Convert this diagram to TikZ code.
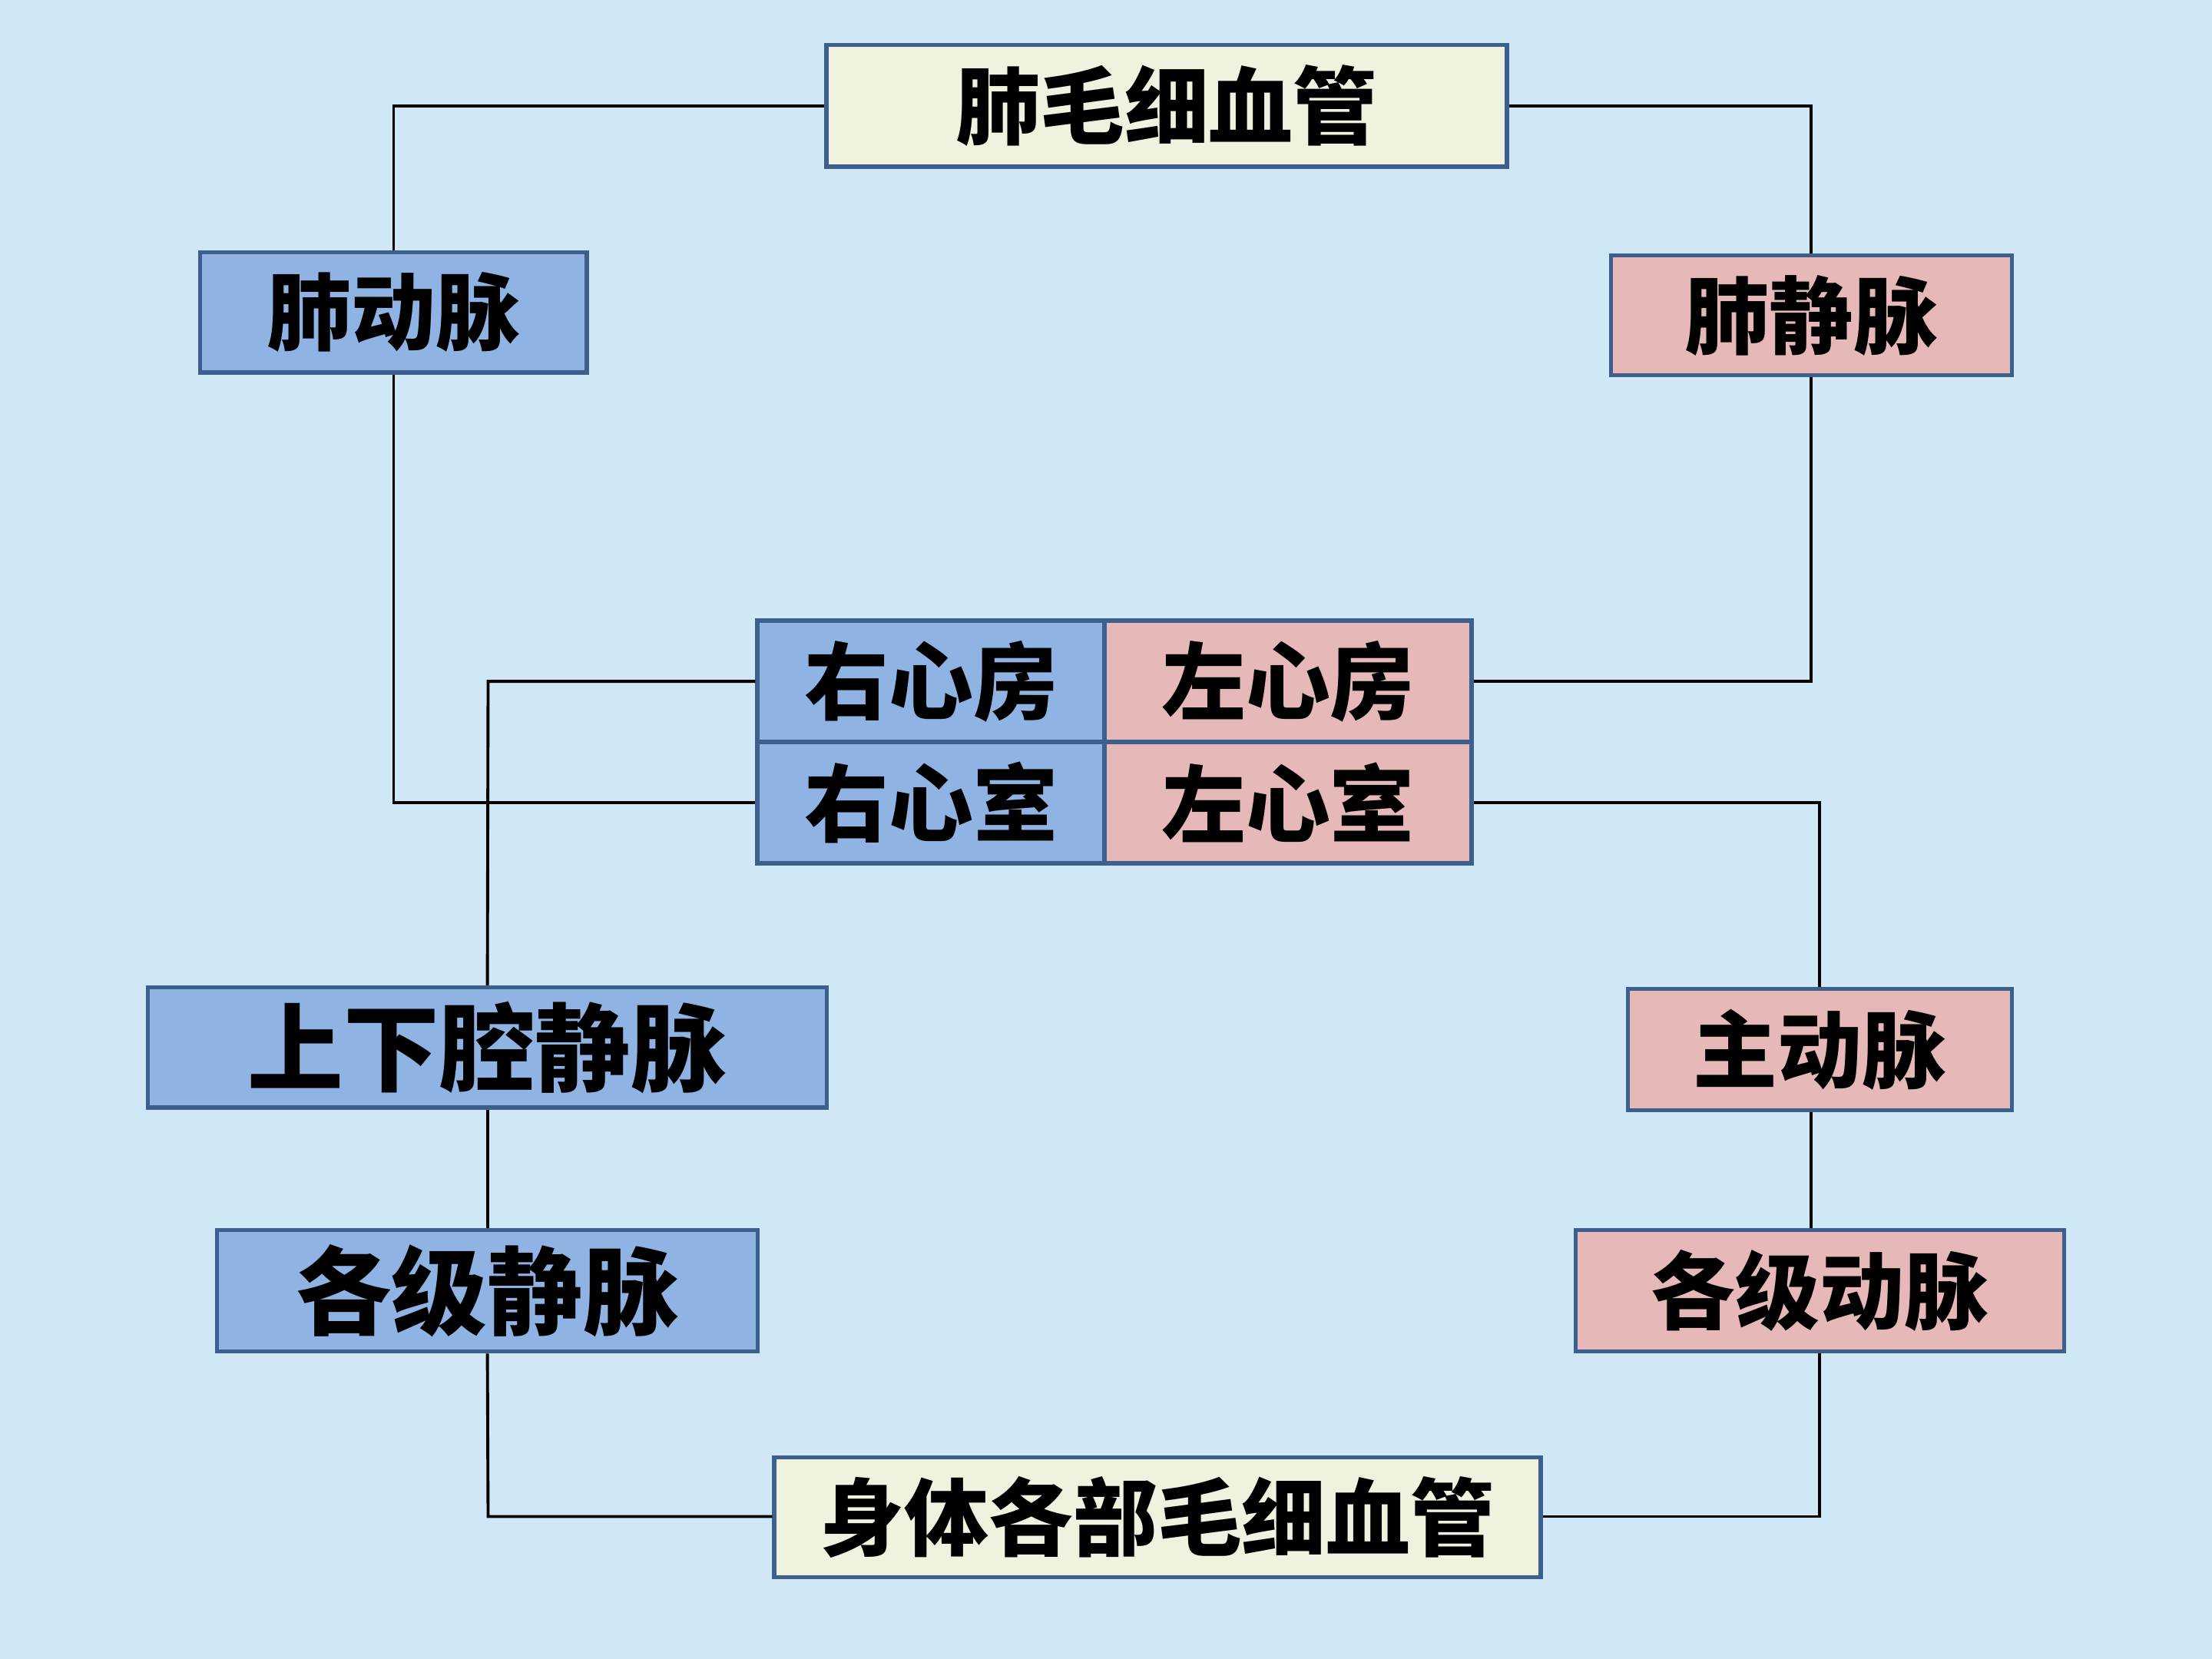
\documentclass[tikz,border=0pt]{standalone}
\usepackage{fontspec}
\newfontfamily\cjk{Noto Sans CJK SC}
\definecolor{bgc}{RGB}{208,232,245}
\definecolor{bluef}{RGB}{143,180,227}
\definecolor{pinkf}{RGB}{230,185,184}
\definecolor{creamf}{RGB}{238,242,222}
\definecolor{edge}{RGB}{60,95,142}
\tikzset{
  box/.style={draw=edge, line width=0.85pt, inner sep=0pt, font=\cjk\bfseries\fontsize{17}{20}\selectfont},
  bigbox/.style={box, font=\cjk\bfseries\fontsize{19.3}{22}\selectfont},
  bluebox/.style={box, fill=bluef},
  pinkbox/.style={box, fill=pinkf},
  creambox/.style={box, fill=creamf},
  conn/.style={draw=black, line width=0.6pt}
}
\begin{document}
\begin{tikzpicture}[x=0.01cm, y=-0.01cm]
\fill[bgc] (0,0) rectangle (1568,1176);
\useasboundingbox (0,0) rectangle (1568,1176);
% connectors first (under boxes)
\coordinate (c1) at (279,75);
\coordinate (c2) at (1284,75);
\coordinate (c3) at (1284,483);
\coordinate (c4) at (279,569);
\coordinate (c5) at (346,483);
\coordinate (c6) at (346,1075);
\coordinate (c7) at (1290,1075);
\coordinate (c8) at (1290,569);
% nodes
\node[creambox, minimum width=4.82cm, minimum height=0.86cm] (cap1) at (827,75) {肺毛细血管};
\node[bluebox, minimum width=2.74cm, minimum height=0.85cm] (pa) at (279,221.5) {肺动脉};
\node[pinkbox, minimum width=2.84cm, minimum height=0.85cm] (pv) at (1284,223.5) {肺静脉};
\node[bluebox, minimum width=2.46cm, minimum height=0.86cm] (ra) at (660,483) {右心房};
\node[pinkbox, minimum width=2.60cm, minimum height=0.86cm] (la) at (913,483) {左心房};
\node[bluebox, minimum width=2.46cm, minimum height=0.86cm] (rv) at (660,569) {右心室};
\node[pinkbox, minimum width=2.60cm, minimum height=0.86cm] (lv) at (913,569) {左心室};
\node[bluebox, bigbox, fill=bluef, minimum width=4.81cm, minimum height=0.85cm] (vc) at (345.5,742.5) {上下腔静脉};
\node[pinkbox, minimum width=2.72cm, minimum height=0.86cm] (ao) at (1290,744) {主动脉};
\node[bluebox, bigbox, fill=bluef, minimum width=3.83cm, minimum height=0.86cm] (vv) at (345.5,915) {各级静脉};
\node[pinkbox, minimum width=3.46cm, minimum height=0.86cm] (av) at (1290,915) {各级动脉};
\node[creambox, minimum width=5.43cm, minimum height=0.85cm] (cap2) at (820.5,1075.5) {身体各部毛细血管};
% connectors
\begin{scope}[on background layer/.style={}]
\end{scope}
\draw[conn] (pa.north) -- (c1) -- (cap1.west);
\draw[conn] (cap1.east) -- (c2) -- (pv.north);
\draw[conn] (pv.south) -- (c3) -- (la.east);
\draw[conn] (pa.south) -- (c4) -- (rv.west);
\draw[conn] (ra.west) -- (c5) -- (vc.north);
\draw[conn] (vc.south) -- (vc.south |- vv.north);
\draw[conn] (vv.south) -- (c6) -- (cap2.west |- c6);
\draw[conn] (cap2.east |- c7) -- (c7) -- (c7 |- av.south);
\draw[conn] ([xshift=-0.06cm]av.north) -- ([xshift=-0.06cm]ao.south);
\draw[conn] (ao.north) -- (c8) -- (lv.east);
\end{tikzpicture}
\end{document}
